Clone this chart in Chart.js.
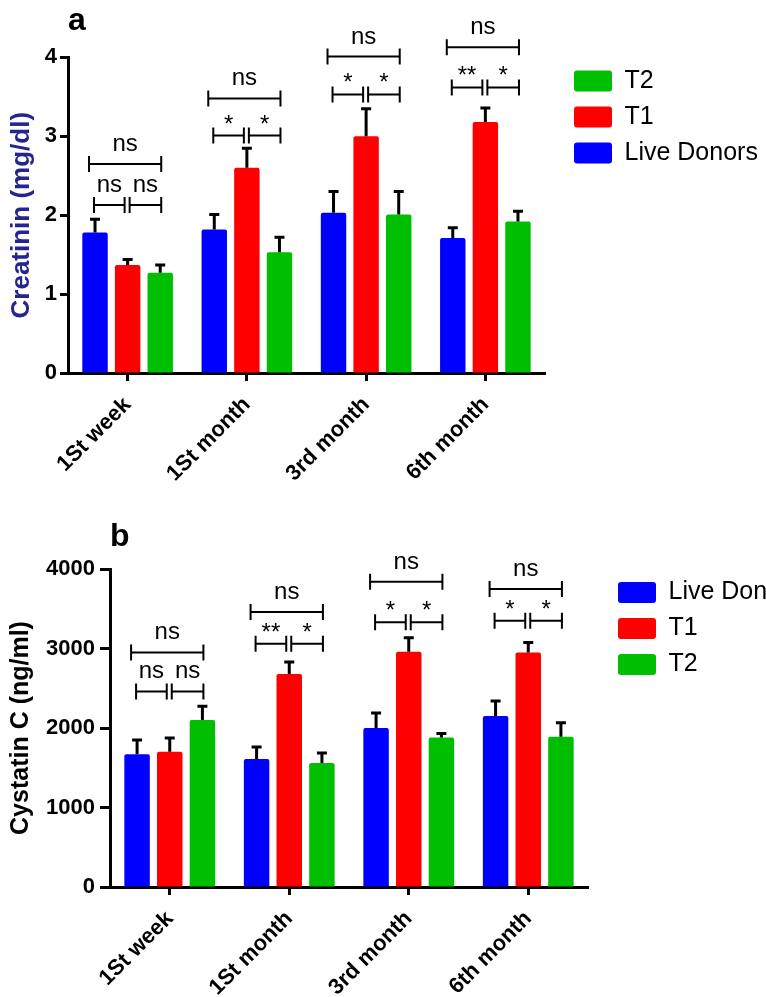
<!DOCTYPE html>
<html><head><meta charset="utf-8">
<script src="https://cdn.jsdelivr.net/npm/chart.js@4/dist/chart.umd.min.js"></script>
<style>
html,body{margin:0;padding:0;background:#fff;width:766px;height:997px;overflow:hidden}
canvas{position:absolute;left:0}
#ca{top:0}
#cb{top:490px}
</style></head><body>
<canvas id="ca" width="766" height="490"></canvas>
<canvas id="cb" width="766" height="507"></canvas>
<script>
// ---------- data ----------
const categories = ['1St week', '1St month', '3rd month', '6th month'];
const seriesNames = ['Live Donors', 'T1', 'T2'];

// panel a: Creatinin (mg/dl)
const creatLive = [1.78, 1.82, 2.03, 1.71];
const creatT1   = [1.37, 2.60, 3.00, 3.18];
const creatT2   = [1.27, 1.53, 2.01, 1.92];
const creatLiveSem = [0.17, 0.19, 0.27, 0.13];
const creatT1Sem   = [0.07, 0.25, 0.35, 0.18];
const creatT2Sem   = [0.10, 0.19, 0.29, 0.13];
const creatTicks = [0, 1, 2, 3, 4];
const creatBigY  = [2.65, 3.48, 4.01, 4.13];
const creatPairY = [2.13, 3.01, 3.53, 3.62];
const creatBigLabels   = ['ns', 'ns', 'ns', 'ns'];
const creatLeftLabels  = ['ns', '*', '*', '**'];
const creatRightLabels = ['ns', '*', '*', '*'];

// panel b: Cystatin C (ng/ml)
const cysLive = [1670, 1610, 2000, 2150];
const cysT1   = [1700, 2680, 2960, 2950];
const cysT2   = [2100, 1560, 1880, 1890];
const cysLiveSem = [180, 150, 190, 190];
const cysT1Sem   = [175, 150, 175, 125];
const cysT2Sem   = [175, 125, 50, 175];
const cysTicks = [0, 1000, 2000, 3000, 4000];
const cysBigY  = [2950, 3460, 3840, 3750];
const cysPairY = [2460, 3060, 3330, 3350];
const cysBigLabels   = ['ns', 'ns', 'ns', 'ns'];
const cysLeftLabels  = ['ns', '**', '*', '*'];
const cysRightLabels = ['ns', '*', '*', '*'];

// ---------- styling ----------
const FAMILY = '"Liberation Sans", Arial, Helvetica, sans-serif';
Chart.defaults.font.family = FAMILY;
const COLORS = ['#0000ff', '#ff0000', '#00bf00'];

const errorBarPlugin = {
  id: 'errorBars',
  afterDatasetsDraw(chart) {
    const ctx = chart.ctx, y = chart.scales.y;
    ctx.save();
    ctx.strokeStyle = '#000';
    ctx.lineWidth = 3;
    chart.data.datasets.forEach((ds, di) => {
      const meta = chart.getDatasetMeta(di);
      if (meta.hidden) return;
      meta.data.forEach((bar, i) => {
        const top = y.getPixelForValue(ds.data[i] + ds.sem[i]);
        ctx.beginPath();
        ctx.moveTo(bar.x, bar.y);
        ctx.lineTo(bar.x, top);
        ctx.moveTo(bar.x - 5, top);
        ctx.lineTo(bar.x + 5, top);
        ctx.stroke();
      });
    });
    ctx.restore();
  }
};

const sigPlugin = {
  id: 'sig',
  afterDraw(chart, args, opts) {
    const ctx = chart.ctx, y = chart.scales.y;
    const m = [0, 1, 2].map(d => chart.getDatasetMeta(d).data);
    ctx.save();
    ctx.strokeStyle = '#000';
    ctx.fillStyle = '#000';
    ctx.lineWidth = 2;
    ctx.font = '24px ' + FAMILY;
    ctx.textAlign = 'center';
    ctx.textBaseline = 'alphabetic';
    const bracket = (x1, x2, py, label) => {
      ctx.beginPath();
      ctx.moveTo(x1, py); ctx.lineTo(x2, py);
      ctx.moveTo(x1, py - 8); ctx.lineTo(x1, py + 8);
      ctx.moveTo(x2, py - 8); ctx.lineTo(x2, py + 8);
      ctx.stroke();
      ctx.fillText(label, (x1 + x2) / 2, py - (label.includes('*') ? 4 : 13));
    };
    opts.bigY.forEach((v, i) => {
      const a = m[0][i].x, b = m[1][i].x, c = m[2][i].x;
      bracket(a - 6, c + 1, y.getPixelForValue(v), opts.bigLabels[i]);
      const py = y.getPixelForValue(opts.pairY[i]);
      bracket(a - 1, b - 3, py, opts.leftLabels[i]);
      bracket(b + 2, c + 1, py, opts.rightLabels[i]);
    });
    ctx.restore();
  }
};

function makeChart(id, p) {
  return new Chart(document.getElementById(id), {
    type: 'bar',
    data: {
      labels: categories,
      datasets: p.values.map((vals, k) => ({
        label: seriesNames[k],
        data: vals,
        sem: p.sems[k],
        backgroundColor: COLORS[k],
        borderWidth: 0,
        borderRadius: 2,
        borderSkipped: 'bottom',
        categoryPercentage: 0.82,
        barPercentage: 0.78
      }))
    },
    options: {
      responsive: false,
      animation: false,
      devicePixelRatio: 1,
      layout: { padding: 0 },
      scales: {
        x: {
          offset: true,
          grid: { display: true, offset: false, drawOnChartArea: false, tickLength: 8, tickWidth: 3, tickColor: '#000' },
          border: { display: true, width: 3, color: '#000' },
          ticks: { minRotation: 45, maxRotation: 45, color: '#000', padding: 11, font: { size: 22, weight: 'bold' } },
          afterFit: s => { s.height = p.xHeight; }
        },
        y: {
          min: p.ticks[0],
          max: p.ticks[p.ticks.length - 1],
          afterBuildTicks: s => { s.ticks = p.ticks.map(v => ({ value: v })); },
          grid: { drawOnChartArea: false, tickLength: p.tickLen, tickWidth: 3, tickColor: '#000' },
          border: { display: true, width: 3, color: '#000' },
          ticks: { color: '#000', padding: p.tickPad, font: { size: 22, weight: 'bold' }, callback: v => String(v) },
          title: { display: true, text: p.yTitle, color: p.yTitleColor, font: { size: p.yTitleSize, weight: 'bold' }, padding: { top: 6, bottom: 0 } },
          afterFit: s => { s.width = p.yWidth; }
        },
        yr: {
          position: 'right',
          display: true,
          grid: { display: false },
          border: { display: false },
          ticks: { display: false },
          afterFit: s => { s.width = p.rightGap; }
        }
      },
      plugins: {
        legend: {
          position: 'right', align: 'start', fullSize: false, reverse: p.reverse,
          maxWidth: p.legendWidth,
          labels: { boxWidth: 38, boxHeight: 21, padding: 11, useBorderRadius: true, borderRadius: 3, color: '#000', font: { size: 25 } }
        },
        title: {
          display: true, text: p.panel, align: 'start', fullSize: false, color: '#000',
          font: { size: 32, weight: 'bold' }, padding: p.titlePad
        },
        tooltip: { enabled: false },
        sig: { bigY: p.bigY, pairY: p.pairY, bigLabels: p.bigLabels, leftLabels: p.leftLabels, rightLabels: p.rightLabels }
      }
    },
    plugins: [errorBarPlugin, sigPlugin]
  });
}

makeChart('ca', {
  panel: 'a',
  values: [creatLive, creatT1, creatT2],
  sems: [creatLiveSem, creatT1Sem, creatT2Sem],
  ticks: creatTicks,
  yTitle: 'Creatinin (mg/dl)', yTitleColor: '#25258f', yTitleSize: 26,
  yWidth: 68, tickLen: 8, tickPad: 3, xHeight: 117,
  rightGap: 18, legendWidth: 203, reverse: true,
  titlePad: { top: 2, bottom: 17 },
  bigY: creatBigY, pairY: creatPairY,
  bigLabels: creatBigLabels, leftLabels: creatLeftLabels, rightLabels: creatRightLabels
});

makeChart('cb', {
  panel: 'b',
  values: [cysLive, cysT1, cysT2],
  sems: [cysLiveSem, cysT1Sem, cysT2Sem],
  ticks: cysTicks,
  yTitle: 'Cystatin C (ng/ml)', yTitleColor: '#000', yTitleSize: 25,
  yWidth: 110, tickLen: 10, tickPad: 5, xHeight: 110,
  rightGap: 19, legendWidth: 159, reverse: false,
  titlePad: { top: 28, bottom: 12.6 },
  bigY: cysBigY, pairY: cysPairY,
  bigLabels: cysBigLabels, leftLabels: cysLeftLabels, rightLabels: cysRightLabels
});
</script>
</body></html>
